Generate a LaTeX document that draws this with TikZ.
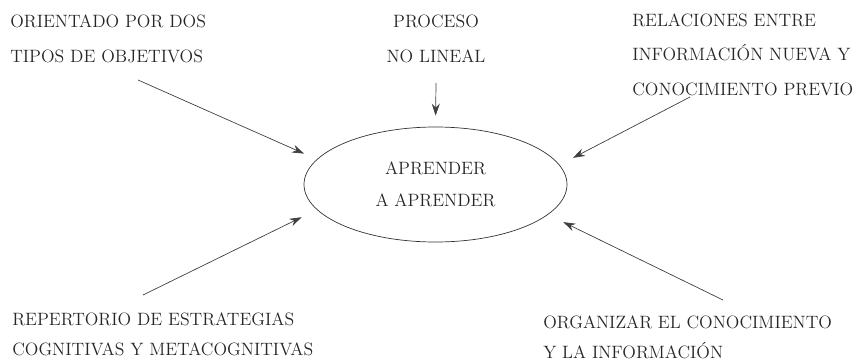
\documentclass[tikz,border=0pt]{standalone}
\usepackage{tikz}
\usetikzlibrary{shapes.geometric,arrows.meta,positioning}

\tikzset{
  texto/.style={inner sep=0pt, align=left, text=black!85, font=\fontsize{12.7}{24.2}\selectfont},
  textobajo/.style={texto, font=\fontsize{12.7}{21}\selectfont},
  burbuja/.style={ellipse, draw=black!80, line width=0.5pt, minimum width=6.575cm, minimum height=2.875cm, inner sep=0pt, align=center, text=black!85, font=\fontsize{12.7}{22.8}\selectfont},
  flecha/.style={->, draw=black!75, line width=0.5pt}
}

\begin{document}
\begin{tikzpicture}[>={Stealth[length=3mm,width=2mm]}]
\useasboundingbox (0,0) rectangle (21.625,9.05);

\node (aprender) at (10.8875,4.4375) [burbuja] {APRENDER\\A APRENDER};

% base = baseline of the last line
\node (objetivos) at (0.25,7.5) [texto, anchor=base west] {ORIENTADO POR DOS\\TIPOS DE OBJETIVOS};
\node (proceso) at (10.9,7.5) [texto, align=center, anchor=base] {PROCESO\\NO LINEAL};
\node (relaciones) at (15.8,6.675) [texto, anchor=base west] {RELACIONES ENTRE\\INFORMACIÓN NUEVA Y\\CONOCIMIENTO PREVIO};
\node (repertorio) at (0.3,0.175) [textobajo, anchor=base west] {REPERTORIO DE ESTRATEGIAS\\COGNITIVAS Y METACOGNITIVAS};
\node (organizar) at (13.575,0.1) [textobajo, anchor=base west] {ORGANIZAR EL CONOCIMIENTO\\Y LA INFORMACIÓN};

\draw [flecha, shorten >=0.35cm] ([xshift=3.2cm, yshift=-0.45cm]objetivos.base west) -- (aprender.168.8);
\draw [flecha, shorten >=0.275cm] ([yshift=-0.525cm]proceso.base) -- (aprender.90);
\draw [flecha, shorten >=0.38cm] ([xshift=1.45cm, yshift=-0.05cm]relaciones.base west) -- (aprender.9.5);
\draw [flecha, shorten >=0.425cm] ([xshift=3.275cm, yshift=1.5cm]repertorio.base west) -- (aprender.192.6);
\draw [flecha, shorten >=0.425cm] ([xshift=4.5cm, yshift=1.45cm]organizar.base west) -- (aprender.-15);
\end{tikzpicture}
\end{document}
